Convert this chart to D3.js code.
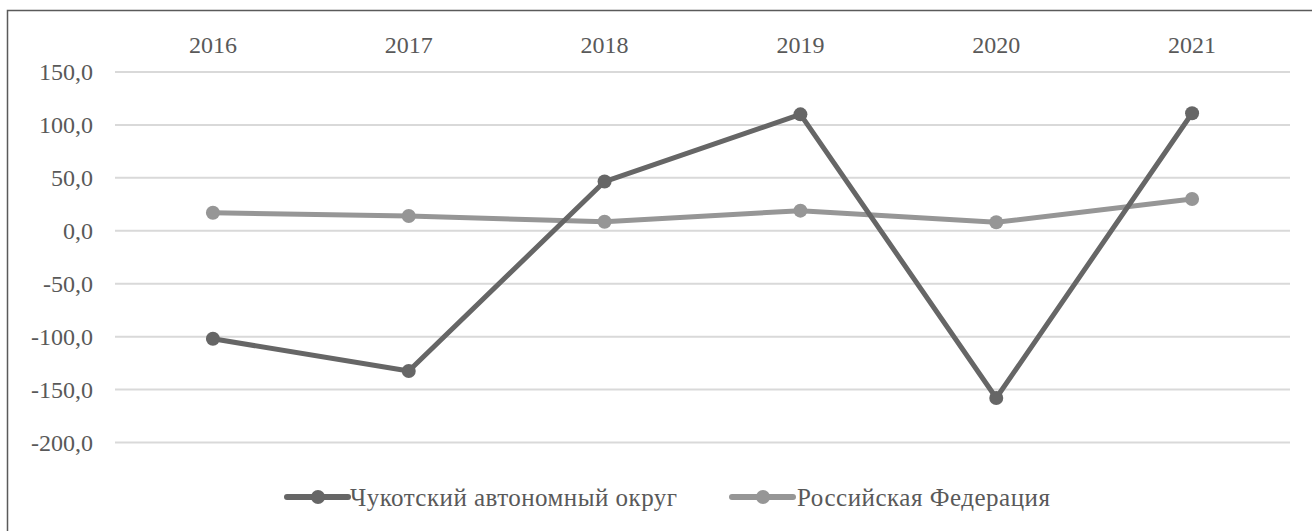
<!DOCTYPE html>
<html>
<head>
<meta charset="utf-8">
<script src="https://cdn.jsdelivr.net/npm/d3@7"></script>
<style>
  body { margin: 0; background: #fff; }
  svg { display: block; }
  text { font-family: "Liberation Serif", "Times New Roman", "DejaVu Serif", serif; }
</style>
</head>
<body>
<svg id="chart" width="1312" height="531"></svg>
<script>
const years = ["2016", "2017", "2018", "2019", "2020", "2021"];
const chukotka = [-102, -132.5, 46.5, 110, -158, 111];
const russia = [17, 14, 8.5, 19, 8, 30];
const yTicks = [150, 100, 50, 0, -50, -100, -150, -200];
const seriesNames = ["Чукотский автономный округ", "Российская Федерация"];
const seriesColors = ["#666666", "#969696"];

const svg = d3.select("#chart");
const textColor = "#595959";

// frame
svg.append("rect")
    .attr("x", 7.5).attr("y", 10.5)
    .attr("width", 1320).attr("height", 540)
    .attr("fill", "#fff")
    .attr("stroke", "#5a5a5a")
    .attr("stroke-width", 1.5);

const x = d3.scalePoint().domain(years).range([115, 1290]).padding(0.5);
const y = d3.scaleLinear().domain([-200, 150]).range([442.5, 72]);

// gridlines
svg.append("g").selectAll("line")
    .data(yTicks)
    .enter().append("line")
    .attr("x1", 115).attr("x2", 1290)
    .attr("y1", d => y(d)).attr("y2", d => y(d))
    .attr("stroke", "#d9d9d9")
    .attr("stroke-width", 2);

// y labels
const fmt = d => d3.format(".1f")(d).replace(".", ",").replace("−", "-");
svg.append("g").selectAll("text")
    .data(yTicks)
    .enter().append("text")
    .attr("x", 93)
    .attr("y", d => y(d) + 8)
    .attr("text-anchor", "end")
    .attr("font-size", 24)
    .attr("fill", textColor)
    .text(fmt);

// x labels on top
svg.append("g").selectAll("text")
    .data(years)
    .enter().append("text")
    .attr("x", d => x(d))
    .attr("y", 53)
    .attr("text-anchor", "middle")
    .attr("font-size", 24)
    .attr("fill", textColor)
    .text(d => d);

const line = d3.line()
    .x((d, i) => x(years[i]))
    .y(d => y(d));

[russia, chukotka].forEach(function (vals) {
    const idx = vals === chukotka ? 0 : 1;
    const g = svg.append("g");
    g.append("path")
        .attr("d", line(vals))
        .attr("fill", "none")
        .attr("stroke", seriesColors[idx])
        .attr("stroke-width", 5)
        .attr("stroke-linejoin", "round");
    g.selectAll("circle")
        .data(vals)
        .enter().append("circle")
        .attr("cx", (d, i) => x(years[i]))
        .attr("cy", d => y(d))
        .attr("r", 7)
        .attr("fill", seriesColors[idx]);
});

// legend
const legendX = [287, 732];
const legendW = [327, 253];
const legend = svg.append("g").selectAll("g")
    .data(seriesNames)
    .enter().append("g")
    .attr("transform", (d, i) => `translate(${legendX[i]}, 497)`);
legend.append("line")
    .attr("x1", 0).attr("x2", 61)
    .attr("y1", 0).attr("y2", 0)
    .attr("stroke", (d, i) => seriesColors[i])
    .attr("stroke-width", 6)
    .attr("stroke-linecap", "round");
legend.append("circle")
    .attr("cx", 31).attr("cy", 0).attr("r", 7)
    .attr("fill", (d, i) => seriesColors[i]);
legend.append("text")
    .attr("x", (d, i) => i === 0 ? 63 : 65)
    .attr("y", 9)
    .attr("font-size", 25)
    .attr("textLength", (d, i) => legendW[i])
    .attr("fill", textColor)
    .text(d => d);
</script>
</body>
</html>
